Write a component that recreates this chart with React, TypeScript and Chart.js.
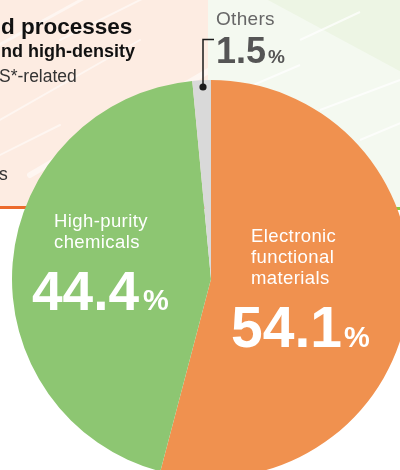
import { useEffect, useRef } from "react";
import { Chart, ArcElement, PieController } from "chart.js";

Chart.register(ArcElement, PieController);

// ---- data ----
const categories = ["Electronic functional materials", "High-purity chemicals", "Others"];
const shares = [54.1, 44.4, 1.5];
const sliceColors = ["#f0914f", "#8dc672", "#d9d9d9"];
const sliceLabelLines = [["Electronic", "functional", "materials"], ["High-purity", "chemicals"], ["Others"]];
const headingLines = ["d processes", "nd high-density", "S*-related", "s"];

const W = 420;
const H = 480;

const backgroundPlugin = {
  id: "panelBackground",
  beforeDraw(chart: any) {
    const ctx = chart.ctx as CanvasRenderingContext2D;
    ctx.save();
    // left peach panel
    ctx.fillStyle = "#fdece2";
    ctx.fillRect(0, 0, 208, 206);
    ctx.save();
    ctx.beginPath();
    ctx.rect(0, 0, 208, 206);
    ctx.clip();
    ctx.strokeStyle = "rgba(255,255,255,0.5)";
    ctx.lineCap = "round";
    const stripes = [
      [-10, 50, 90, -5, 3],
      [60, 40, 200, -30, 2],
      [0, 120, 140, 40, 2],
      [30, 175, 210, 70, 6],
      [-10, 160, 60, 125, 2],
    ];
    for (const [x1, y1, x2, y2, lw] of stripes) {
      ctx.lineWidth = lw;
      ctx.beginPath();
      ctx.moveTo(x1, y1);
      ctx.lineTo(x2, y2);
      ctx.stroke();
    }
    ctx.restore();
    // right green panel
    ctx.fillStyle = "#f4f9f0";
    ctx.fillRect(208, 0, W - 208, 207);
    ctx.fillStyle = "#edf5e4";
    ctx.beginPath();
    ctx.moveTo(268, 0);
    ctx.lineTo(W, 0);
    ctx.lineTo(W, 82);
    ctx.closePath();
    ctx.fill();
    ctx.save();
    ctx.beginPath();
    ctx.rect(208, 0, W - 208, 207);
    ctx.clip();
    ctx.strokeStyle = "rgba(255,255,255,0.7)";
    const gStripes = [
      [300, 40, 360, 12, 2],
      [230, 95, 300, 65, 2],
      [320, 110, 400, 80, 2],
      [360, 140, 420, 115, 2],
    ];
    for (const [x1, y1, x2, y2, lw] of gStripes) {
      ctx.lineWidth = lw;
      ctx.beginPath();
      ctx.moveTo(x1, y1);
      ctx.lineTo(x2, y2);
      ctx.stroke();
    }
    ctx.restore();
    // bottom rules
    ctx.fillStyle = "#ec6a2c";
    ctx.fillRect(0, 206, 208, 3);
    ctx.fillStyle = "#8cc63f";
    ctx.fillRect(208, 207, W - 208, 3);
    ctx.restore();
  },
};

const labelPlugin = {
  id: "sliceLabels",
  afterDraw(chart: any) {
    const ctx = chart.ctx as CanvasRenderingContext2D;
    ctx.save();
    ctx.textBaseline = "alphabetic";
    ctx.textAlign = "left";
    const fam = "'Liberation Sans', Arial, sans-serif";

    // heading texts (cropped)
    ctx.fillStyle = "#111";
    ctx.font = `bold 22.5px ${fam}`;
    ctx.fillText(headingLines[0], 1, 34);
    ctx.font = `bold 18px ${fam}`;
    ctx.fillText(headingLines[1], 1, 57);
    ctx.fillStyle = "#333";
    ctx.font = `17.5px ${fam}`;
    ctx.fillText(headingLines[2], -1, 82);
    ctx.fillText(headingLines[3], -1, 180);

    // slice names
    ctx.fillStyle = "#ffffff";
    ctx.font = `18.5px ${fam}`;
    (ctx as any).letterSpacing = "0.4px";
    sliceLabelLines[0].forEach((t, i) => ctx.fillText(t, 251, 242 + i * 21));
    sliceLabelLines[1].forEach((t, i) => ctx.fillText(t, 54, 227 + i * 21));
    (ctx as any).letterSpacing = "0px";

    const drawPct = (v: number, x: number, y: number, big: number, small: number, gap: number, color: string) => {
      ctx.fillStyle = color;
      ctx.font = `bold ${big}px ${fam}`;
      const s = v.toFixed(1);
      ctx.fillText(s, x, y);
      const w = ctx.measureText(s).width;
      ctx.font = `bold ${small}px ${fam}`;
      ctx.fillText("%", x + w + gap, y);
    };
    drawPct(shares[0], 231, 347, 57, 29, 2, "#ffffff");
    drawPct(shares[1], 32, 310, 55, 29, 4, "#ffffff");

    // Others
    ctx.fillStyle = "#666";
    ctx.font = `19px ${fam}`;
    (ctx as any).letterSpacing = "0.3px";
    ctx.fillText(sliceLabelLines[2][0], 216, 25);
    (ctx as any).letterSpacing = "0px";
    drawPct(shares[2], 216, 63, 36, 19, 2, "#555");

    // leader line
    ctx.strokeStyle = "#1a1a1a";
    ctx.lineWidth = 1.5;
    ctx.beginPath();
    ctx.moveTo(214, 39.5);
    ctx.lineTo(203, 39.5);
    ctx.lineTo(203, 87);
    ctx.stroke();
    ctx.fillStyle = "#1a1a1a";
    ctx.beginPath();
    ctx.arc(203, 87, 3.6, 0, Math.PI * 2);
    ctx.fill();
    ctx.restore();
  },
};

export default function App() {
  const ref = useRef<HTMLCanvasElement | null>(null);
  useEffect(() => {
    if (!ref.current) return;
    const chart = new Chart(ref.current, {
      type: "pie",
      data: {
        labels: categories,
        datasets: [
          {
            data: shares,
            backgroundColor: sliceColors,
            borderWidth: 0,
            hoverBorderWidth: 0,
            hoverOffset: 0,
          },
        ],
      },
      options: {
        responsive: false,
        animation: false,
        events: [],
        radius: 199,
        layout: { padding: { left: 12, top: 80, right: W - 410, bottom: H - 478 } },
        plugins: { legend: { display: false }, tooltip: { enabled: false } },
      } as any,
      plugins: [backgroundPlugin, labelPlugin],
    });
    return () => chart.destroy();
  }, []);
  return (
    <div
      style={{
        position: "fixed",
        left: 0,
        top: 0,
        width: 400,
        height: 470,
        overflow: "hidden",
        background: "#fff",
      }}
    >
      <canvas ref={ref} width={W} height={H} style={{ width: W, height: H, display: "block" }} />
    </div>
  );
}
